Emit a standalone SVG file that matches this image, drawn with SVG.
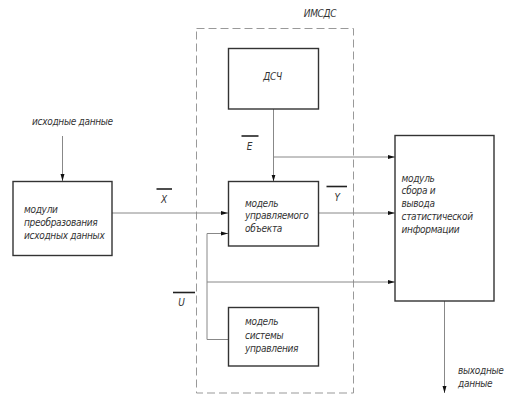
<svg xmlns="http://www.w3.org/2000/svg" width="522" height="416" viewBox="0 0 522 416">
<style>
.box{fill:#fff;stroke:#333;stroke-width:1.4}
.ln{fill:none;stroke:#888;stroke-width:1}
.dash{fill:none;stroke:#999;stroke-width:1;stroke-dasharray:8,4}
.ov{stroke:#222;stroke-width:1.6}
text{font-family:"DejaVu Sans","Liberation Sans",sans-serif;font-stretch:condensed;font-style:oblique;font-size:10px;letter-spacing:-0.3px;fill:#333}
</style>
<defs>
<marker id="ah" markerWidth="7" markerHeight="6" refX="7" refY="3" orient="auto" markerUnits="userSpaceOnUse">
<path d="M0,1 L7,3 L0,5 Z" fill="#111"/>
</marker>
</defs>
<rect class="dash" x="196.5" y="28.5" width="157" height="364.5"/>
<text x="320" y="16.5" text-anchor="middle">ИМСДС</text>
<g id="connectors">
<path class="ln" d="M62.5,136 V181" marker-end="url(#ah)"/>
<path class="ln" d="M112,213 H228" marker-end="url(#ah)"/>
<path class="ln" d="M273.5,109 V181.5" marker-end="url(#ah)"/>
<path class="ln" d="M273.5,157 H395" marker-end="url(#ah)"/>
<path class="ln" d="M319,213 H395" marker-end="url(#ah)"/>
<path class="ln" d="M228.5,339.5 H207 V233.5 H228" marker-end="url(#ah)"/>
<path class="ln" d="M207,282 H395" marker-end="url(#ah)"/>
<path class="ln" d="M444.5,301 V393" marker-end="url(#ah)"/>
<line class="ov" x1="241.5" y1="136" x2="258.5" y2="136"/>
<text x="249.5" y="150" text-anchor="middle">E</text>
<line class="ov" x1="156.5" y1="189" x2="172" y2="189"/>
<text x="164" y="202.5" text-anchor="middle">X</text>
<line class="ov" x1="326.5" y1="186.5" x2="347" y2="186.5"/>
<text x="337" y="201" text-anchor="middle">Y</text>
<line class="ov" x1="173" y1="292.5" x2="195" y2="292.5"/>
<text x="181.5" y="305.5" text-anchor="middle">U</text>
<text x="32" y="125">исходные данные</text>
<text x="458" y="373.5">выходные</text>
<text x="458" y="386.5">данные</text>
</g>
<g id="n_mod">
<rect class="box" x="13" y="181.5" width="99" height="74"/>
<text x="24" y="212.5">модули</text>
<text x="24" y="225.5">преобразования</text>
<text x="24" y="239">исходных данных</text>
</g>
<g id="n_dsch">
<rect class="box" x="228.5" y="48.5" width="90" height="60.5"/>
<text x="272.5" y="79.5" text-anchor="middle">ДСЧ</text>
</g>
<g id="n_obj">
<rect class="box" x="228.5" y="181.5" width="90" height="64.5"/>
<text x="245" y="206.5">модель</text>
<text x="245" y="219">управляемого</text>
<text x="245" y="231.5">объекта</text>
</g>
<g id="n_sys">
<rect class="box" x="228.5" y="307.5" width="90" height="58.5"/>
<text x="245" y="325">модель</text>
<text x="245" y="338.5">системы</text>
<text x="245" y="352">управления</text>
</g>
<g id="n_stat">
<rect class="box" x="395" y="135.5" width="99" height="165.5"/>
<text x="401.5" y="181.5">модуль</text>
<text x="401.5" y="194">сбора и</text>
<text x="401.5" y="207">вывода</text>
<text x="401.5" y="220">статистической</text>
<text x="401.5" y="233">информации</text>
</g>
</svg>
